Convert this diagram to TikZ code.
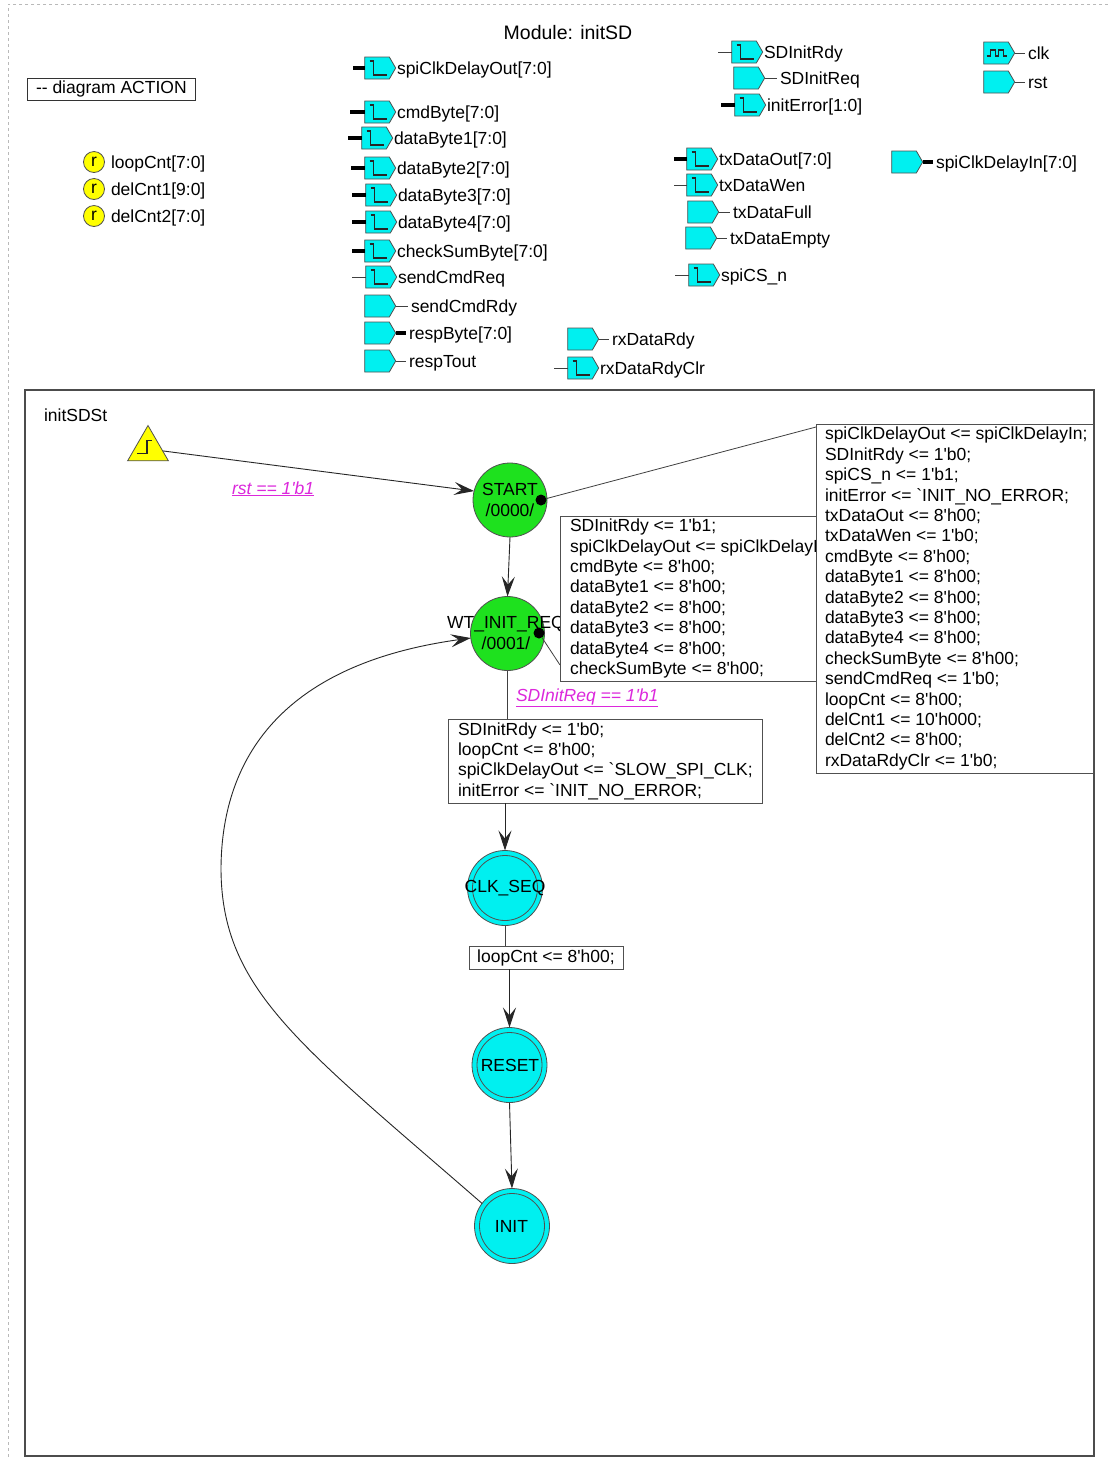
\documentclass[tikz,border=0pt]{standalone}
\usepackage{fontspec}
\setmainfont{Liberation Sans}[Ligatures=TeXOff]
\usetikzlibrary{shapes.symbols,shapes.geometric,arrows.meta}
\definecolor{portc}{RGB}{0,240,240}
\definecolor{stgreen}{RGB}{30,225,30}
\definecolor{regy}{RGB}{255,255,0}
\definecolor{magc}{RGB}{220,40,220}
\definecolor{edgec}{RGB}{80,80,80}
\tikzset{
  every node/.style={inner sep=0pt, outer sep=0pt, font=\fontsize{17.5}{20.4}\selectfont},
  port/.style={signal, signal to=east, signal pointer angle=120, draw=edgec, fill=portc, line width=0.8pt, minimum width=31pt, minimum height=22pt},
  lbl/.style={anchor=base west},
  bus/.style={line width=4pt, black},
  wire/.style={line width=0.8pt, black!75},
  glyph/.style={line width=1.1pt, black!85},
  arr/.style={line width=0.9pt, black!85, -{Stealth[length=20pt,width=13pt,inset=8pt]}},
  gstate/.style={circle, minimum size=74pt, fill=stgreen, draw=edgec, line width=0.8pt},
  cstate/.style={circle, minimum size=75pt, fill=portc, draw=edgec, line width=0.8pt},
  ring/.style={circle, minimum size=65pt, draw=edgec, line width=0.8pt},
  stext/.style={align=center},
  dot/.style={circle, fill=black, minimum size=11pt},
  aframe/.style={draw=edgec, fill=white, anchor=north west, line width=0.9pt},
  atext/.style={anchor=west, align=left},
  reg/.style={circle, fill=regy, draw=edgec, line width=0.8pt, minimum size=21pt},
  guard/.style={font=\fontsize{17.5}{20.4}\selectfont\itshape, text=magc, anchor=base west},
}
% output port: name, x0, y, label, stub style, stub start x
\newcommand\outport[6]{%
  \node[port] (#1) at (#2+14,#3) {};
  \draw[glyph] (#1.west) ++(5,-7) -- ++(4,0) -- ++(0,14) -- ++(13,0);
  \draw[#5] (#1.west) -- (#6,#3);
  \node[lbl] (#1-l) at (#2+34,#3+6.3) {#4};
}
% input port: name, x0, y, label, stub style, stub end x
\newcommand\inport[6]{%
  \node[port] (#1) at (#2+14,#3) {};
  \draw[#5] (#1.east) -- (#6,#3);
  \node[lbl] (#1-l) at (#6+3,#3+6.3) {#4};
}
\begin{document}
\begin{tikzpicture}[x=1pt,y=-1pt]
\useasboundingbox (0,0) rectangle (1108,1460);
\fill[white] (0,0) rectangle (1108,1460);
% outer dashed border
\draw[gray!55, dash pattern=on 3pt off 3pt, line width=0.8pt] (1108,4) -- (8,4) -- (8,1460);

\node[font=\fontsize{19.5}{22}\selectfont] (title) at (568,33) {Module: initSD};
\node[draw=black!80, line width=0.8pt, anchor=north west, inner xsep=9pt, minimum height=22pt] (diag) at (27,78) {-- diagram ACTION};

% registers
\node[reg] (r1) at (94,162) {r};
\node[lbl] (r1-l) at (111,168.3) {loopCnt[7:0]};
\node[reg] (r2) at (94,189) {r};
\node[lbl] (r2-l) at (111,195.3) {delCnt1[9:0]};
\node[reg] (r3) at (94,216) {r};
\node[lbl] (r3-l) at (111,222.3) {delCnt2[7:0]};

% ports
\outport{p1}{363}{68}{spiClkDelayOut[7:0]}{bus}{353}
\outport{p2}{363}{112}{cmdByte[7:0]}{bus}{350}
\outport{p3}{360}{138}{dataByte1[7:0]}{bus}{348}
\outport{p4}{363}{168}{dataByte2[7:0]}{bus}{351}
\outport{p5}{364}{195}{dataByte3[7:0]}{bus}{352}
\outport{p6}{364}{222}{dataByte4[7:0]}{bus}{352}
\outport{p7}{363}{251}{checkSumByte[7:0]}{bus}{352}
\outport{p8}{364}{277}{sendCmdReq}{wire}{352}
\inport{p9}{363}{306}{sendCmdRdy}{wire}{408}
\inport{p10}{363}{333}{respByte[7:0]}{bus}{406}
\inport{p11}{363}{361}{respTout}{wire}{406}
\inport{p12}{566}{339}{rxDataRdy}{wire}{609}
\outport{p13}{566}{368}{rxDataRdyClr}{wire}{554}
\outport{p14}{730}{52}{SDInitRdy}{wire}{718}
\inport{p15}{732}{78}{SDInitReq}{wire}{777}
\outport{p16}{733}{105}{initError[1:0]}{bus}{721}
\outport{p17}{685}{159}{txDataOut[7:0]}{bus}{674}
\outport{p18}{685}{185}{txDataWen}{wire}{674}
\inport{p19}{686}{212}{txDataFull}{wire}{730}
\inport{p20}{684}{238}{txDataEmpty}{wire}{727}
\outport{p21}{687}{275}{spiCS\_n}{wire}{675}
\inport{p22}{890}{162}{spiClkDelayIn[7:0]}{bus}{933}
\inport{p23}{982}{53}{clk}{wire}{1025}
\draw[glyph] (p23.west) ++(3,3) -- ++(4,0) -- ++(0,-6) -- ++(5,0) -- ++(0,6) -- ++(3,0) -- ++(0,-6) -- ++(5,0) -- ++(0,6) -- ++(3,0);
\inport{p24}{982}{82}{rst}{wire}{1025}

% state diagram frame
\draw[line width=1.3pt, black!70] (25,390) rectangle (1094,1456);
\node[lbl] (sname) at (44,421) {initSDSt};

% reset triangle
\node[regular polygon, regular polygon sides=3, minimum size=47pt, fill=regy, draw=edgec, line width=0.8pt] (tri) at (148,449) {};
\draw[glyph] (tri.center) ++(-11,4.5) -- ++(10,0) -- ++(0,-13) -- ++(5,0);

% states
\node[gstate] (start) at (510,500) {};
\node[gstate] (wt) at (507.5,633.5) {};
\node[cstate] (clkseq) at (505,888) {};
\node[ring] (clkseq-r) at (505,888) {};
\node[cstate] (reset) at (509.5,1065) {};
\node[ring] (reset-r) at (509.5,1065) {};
\node[cstate] (init) at (512,1226) {};
\node[ring] (init-r) at (512,1226) {};

\node[stext] (start-t) at (510,500) {START\\/0000/};
\node[stext] (wt-t) at (506,633) {WT\_INIT\_REQ\\/0001/};
\node (clkseq-t) at (505,888) {CLK\_SEQ};
\node (reset-t) at (510,1065) {RESET};
\node (init-t) at (511.5,1226) {INIT};

\node[dot] (d1) at (541,500) {};
\node[dot] (d2) at (539,633) {};

% action boxes
\node[aframe, minimum width=314pt, minimum height=84pt] (b1) at (448,719) {};
\node[atext] (b1-t) at ([xshift=10pt]b1.west)
  {SDInitRdy <= 1'b0;\\loopCnt <= 8'h00;\\spiClkDelayOut <= `SLOW\_SPI\_CLK;\\initError <= `INIT\_NO\_ERROR;};
\node[aframe, minimum width=290pt, minimum height=165pt] (b2) at (560,516) {};
\node[atext] (b2-t) at ([xshift=10pt]b2.west)
  {SDInitRdy <= 1'b1;\\spiClkDelayOut <= spiClkDelayIn;\\cmdByte <= 8'h00;\\dataByte1 <= 8'h00;\\dataByte2 <= 8'h00;\\dataByte3 <= 8'h00;\\dataByte4 <= 8'h00;\\checkSumByte <= 8'h00;};
\node[aframe, minimum width=277pt, minimum height=349pt] (b3) at (816,424) {};
\node[atext] (b3-t) at ([xshift=9pt]b3.west)
  {spiClkDelayOut <= spiClkDelayIn;\\SDInitRdy <= 1'b0;\\spiCS\_n <= 1'b1;\\initError <= `INIT\_NO\_ERROR;\\txDataOut <= 8'h00;\\txDataWen <= 1'b0;\\cmdByte <= 8'h00;\\dataByte1 <= 8'h00;\\dataByte2 <= 8'h00;\\dataByte3 <= 8'h00;\\dataByte4 <= 8'h00;\\checkSumByte <= 8'h00;\\sendCmdReq <= 1'b0;\\loopCnt <= 8'h00;\\delCnt1 <= 10'h000;\\delCnt2 <= 8'h00;\\rxDataRdyClr <= 1'b0;};
\node[aframe, minimum width=154pt, minimum height=23pt] (b4) at (469,946) {};
\node (b4-t) at (b4.center) {loopCnt <= 8'h00;};

% connectors
\draw[arr] (tri) -- (start.166);
\node[guard] (g1) at (232,494) {\underline{rst == 1'b1}};
\draw[arr] (start.south) -- (wt.north);
\draw[wire] (wt.south) -- (wt.south |- b1.north);
\node[guard] (g2) at (516,701) {\underline{SDInitReq == 1'b1}};
\draw[arr] (clkseq.north |- b1.south) -- (clkseq.north);
\draw[wire] (clkseq.south) -- (clkseq.south |- b4.north);
\draw[arr] (reset.north |- b4.south) -- (reset.north);
\draw[arr] (reset.south) -- (init.north);
\draw[arr] (init.143) .. controls (300,1045) and (222,990) .. (221,870) .. controls (221,765) and (275,665) .. (wt.187);
\draw[wire] (d1) -- ([yshift=-3pt]b3.north west);
\draw[wire] (d2) -- ([yshift=16pt]b2.south west);
\end{tikzpicture}
\end{document}
